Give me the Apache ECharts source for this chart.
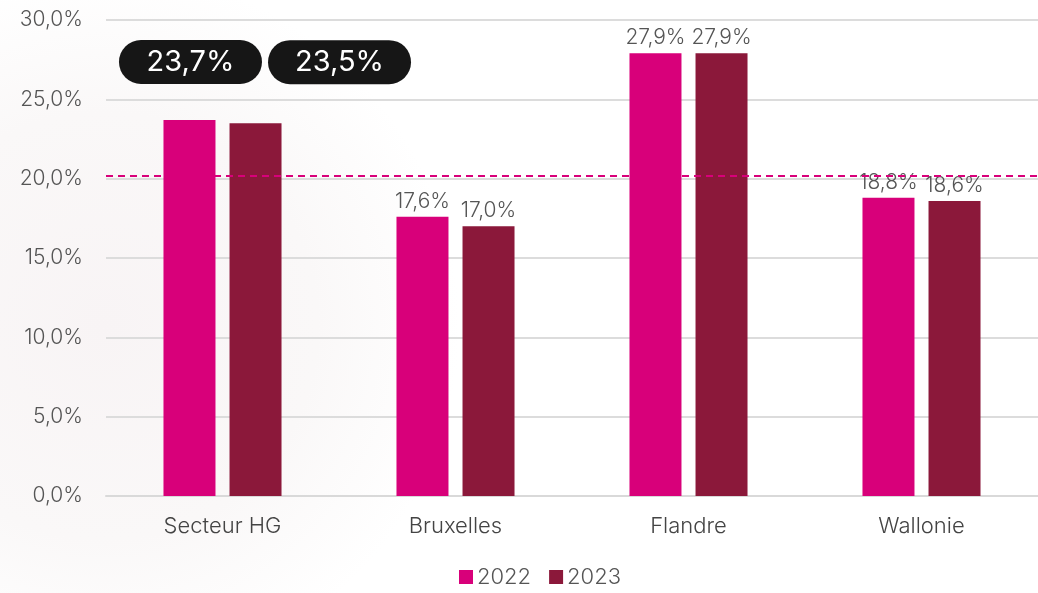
<!DOCTYPE html>
<html>
<head>
<meta charset="utf-8">
<script src="https://cdn.jsdelivr.net/npm/echarts@6/dist/echarts.min.js"></script>
<style>
  html, body { margin: 0; padding: 0; background: #fff; }
  #main { width: 1038px; height: 593px; }
</style>
</head>
<body>
<div id="main"></div>
<script>
// données
var categories = ['Secteur HG', 'Bruxelles', 'Flandre', 'Wallonie'];
var values2022 = [23.7, 17.6, 27.9, 18.8];
var values2023 = [23.5, 17.0, 27.9, 18.6];
var seriesNames = ['2022', '2023'];
var refLine = 20.2;
var yTicks = { min: 0, max: 30, interval: 5 };

var FONT = 'Inter';
var pct = function (v) { return v.toFixed(1).replace('.', ',') + '%'; };

var chart = echarts.init(document.getElementById('main'));

// étiquette "pilule" noire pour le secteur
function pill (offsetX, dist) {
  return {
    show: true,
    position: 'top',
    distance: dist,
    offset: [offsetX, 0],
    color: '#fff',
    fontSize: 29,
    fontFamily: FONT,
    fontWeight: 400,
    backgroundColor: '#161616',
    borderRadius: 22,
    width: 143,
    height: 44,
    lineHeight: 44,
    align: 'center'
  };
}

function buildData (values, pillLabel) {
  return values.map(function (v, i) {
    if (i === 0) return { value: v, label: pillLabel };
    return v;
  });
}

var labelStyle = {
  show: true,
  position: 'top',
  distance: 5,
  color: '#555',
  fontSize: 21,
  fontFamily: FONT,
  fontWeight: 300,
  formatter: function (p) { return pct(p.value); }
};

chart.setOption({
  backgroundColor: {
    type: 'radial', x: 0.1, y: 0.55, r: 0.6,
    colorStops: [
      { offset: 0, color: '#f8f4f5' },
      { offset: 0.6, color: '#faf8f8' },
      { offset: 1, color: '#ffffff' }
    ]
  },
  textStyle: { fontFamily: FONT },
  color: ['#D8007A', '#8B183A'],
  grid: { left: 106, right: 0, top: 20, bottom: 97 },
  legend: {
    data: seriesNames,
    bottom: 0,
    left: 454,
    icon: 'rect',
    itemWidth: 14,
    itemHeight: 14,
    itemGap: 18,
    textStyle: { color: '#555', fontSize: 22, fontWeight: 300, padding: [0, 0, 0, -1] }
  },
  xAxis: {
    type: 'category',
    data: categories,
    axisLine: { lineStyle: { color: '#d9d9d9', width: 2 } },
    axisTick: { show: false },
    axisLabel: { color: '#444', fontSize: 22, fontWeight: 300, margin: 19 }
  },
  yAxis: {
    type: 'value',
    min: yTicks.min,
    max: yTicks.max,
    interval: yTicks.interval,
    axisLine: { show: false },
    axisTick: { show: false },
    splitLine: { lineStyle: { color: '#dcdcdc', width: 2 } },
    axisLabel: { color: '#555', fontSize: 21, fontWeight: 300, margin: 23, formatter: pct }
  },
  series: [
    {
      name: seriesNames[0],
      type: 'bar',
      barWidth: 52,
      barGap: '27%',
      label: labelStyle,
      data: buildData(values2022, pill(1, 36)),
      markLine: {
        silent: true,
        symbol: 'none',
        label: { show: false },
        lineStyle: { color: '#D8007A', type: [7, 5], width: 2 },
        data: [{ yAxis: refLine }]
      }
    },
    {
      name: seriesNames[1],
      type: 'bar',
      barWidth: 52,
      label: labelStyle,
      data: buildData(values2023, pill(84, 39))
    }
  ]
});
</script>
</body>
</html>
